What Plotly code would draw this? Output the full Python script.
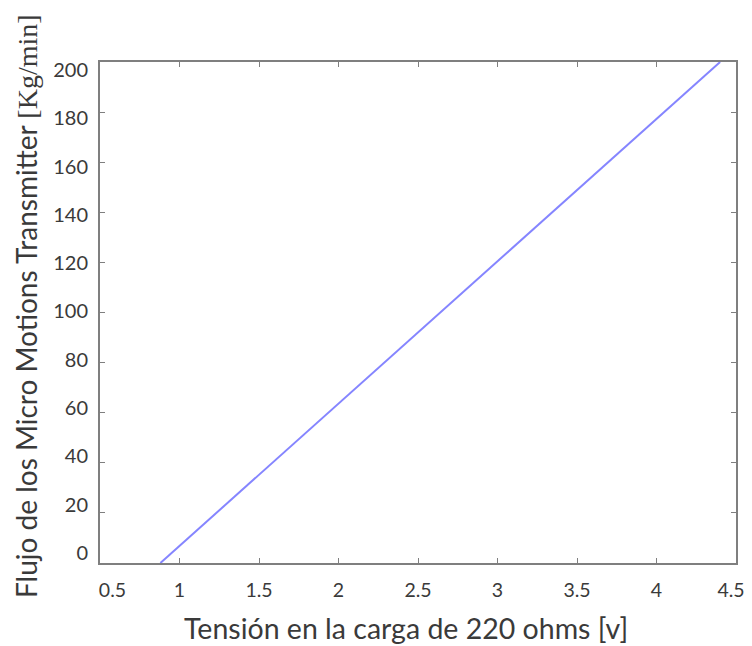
import plotly.graph_objects as go

# Data (4-20 mA across 220 ohms -> 0.88 V to 4.4 V, 0 to 200 Kg/min)
voltage = [0.88, 4.4]
flow = [0, 200]

x_ticks = [0.5, 1, 1.5, 2, 2.5, 3, 3.5, 4, 4.5]
x_tick_text = ["\u00a0\u00a0\u00a0\u00a0\u00a00.5", "1", "1.5", "2", "2.5",
               "3", "3.5", "4", "4.5\u00a0\u00a0"]
y_ticks = [0, 20, 40, 60, 80, 100, 120, 140, 160, 180, 200]
y_tick_text = [str(v) for v in y_ticks]

x_title = "Tensión en la carga de 220 ohms [v]"
y_title = ("Flujo de los Micro Motions Transmitter "
           "<span style='font-family:Liberation Serif'>[Kg/min]</span>")

axis_col = "#7f7f7f"
text_col = "#3a3a3a"
font_main = "Lato, Open Sans, sans-serif"

fig = go.Figure()
fig.add_trace(go.Scatter(
    x=voltage, y=flow, mode="lines",
    line=dict(color="#8585ff", width=2),
    showlegend=False, hoverinfo="skip",
))
# invisible trace for the label axis
fig.add_trace(go.Scatter(x=[None], y=[None], yaxis="y2", showlegend=False))

# page body has an 8px default margin, so the figure is 8px smaller
fig.update_layout(
    width=744, height=638,
    margin=dict(l=92, r=16, t=54, b=83, autoexpand=False),
    paper_bgcolor="white", plot_bgcolor="white",
    font=dict(family=font_main, color=text_col),
    xaxis=dict(
        range=[0.5, 4.5], tickvals=x_ticks, ticktext=x_tick_text,
        showgrid=False, zeroline=False, automargin=False,
        showline=True, linecolor=axis_col, linewidth=2, mirror="ticks",
        ticks="inside", ticklen=5, tickcolor=axis_col, tickwidth=1,
        tickfont=dict(size=19.5, color=text_col, family=font_main),
        ticklabelstandoff=9, ticklabeloverflow="allow",
        anchor="y",
    ),
    yaxis=dict(
        range=[0, 200], tickvals=y_ticks,
        showticklabels=False, automargin=False,
        showgrid=False, zeroline=False,
        showline=True, linecolor=axis_col, linewidth=2, mirror="ticks",
        ticks="inside", ticklen=5, tickcolor=axis_col, tickwidth=1,
    ),
    yaxis2=dict(
        overlaying="y", side="left", automargin=False,
        range=[-4.15, 203.3], tickvals=y_ticks, ticktext=y_tick_text,
        showgrid=False, zeroline=False, showline=False, ticks="",
        tickfont=dict(size=20, color=text_col, family=font_main),
        ticklabelstandoff=11, ticklabeloverflow="allow",
    ),
    annotations=[
        dict(text=x_title, xref="paper", yref="paper", x=0.481, y=0,
             xanchor="center", yanchor="middle", yshift=-65, showarrow=False,
             font=dict(size=28.5, color=text_col, family=font_main)),
        dict(text=y_title, xref="paper", yref="paper", x=0, y=0.513,
             xanchor="center", yanchor="middle", xshift=-74, textangle=-90,
             showarrow=False,
             font=dict(size=28, color=text_col, family=font_main)),
    ],
)

fig.write_html("out.html")
